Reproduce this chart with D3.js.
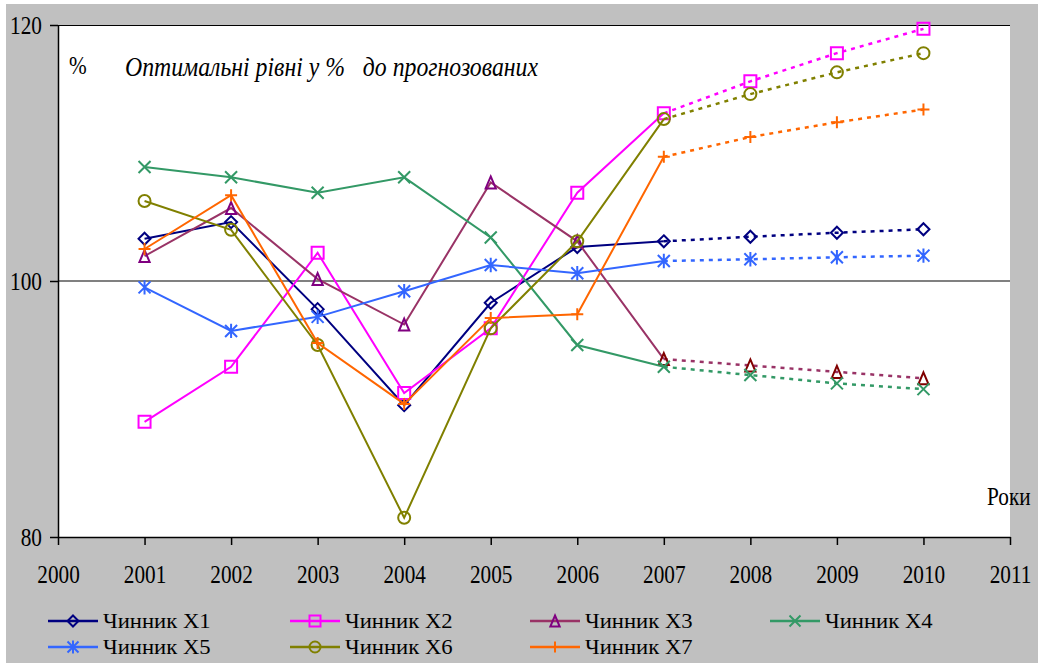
<!DOCTYPE html>
<html>
<head>
<meta charset="utf-8">
<script src="https://cdn.jsdelivr.net/npm/d3@7"></script>
<style>
  html, body { margin: 0; padding: 0; background: #ffffff; }
  svg { display: block; }
  svg text { font-family: "Liberation Serif", "Times New Roman", serif; fill: #000; }
</style>
</head>
<body>
<svg id="chart" width="1038" height="663" font-family="Liberation Serif"></svg>
<script>
// ---- data ----
const years = [2001, 2002, 2003, 2004, 2005, 2006, 2007, 2008, 2009, 2010];
const axisYears = [2000, 2001, 2002, 2003, 2004, 2005, 2006, 2007, 2008, 2009, 2010, 2011];
const yTicks = [80, 100, 120];
const forecastFrom = 2007;
const seriesNames = ["Чинник X1", "Чинник X2", "Чинник X3", "Чинник X4", "Чинник X5", "Чинник X6", "Чинник X7"];
const valuesX1 = [103.3, 104.6, 97.8, 90.3, 98.3, 102.65, 103.1, 103.46, 103.77, 104.04];
const valuesX2 = [89.0, 93.3, 102.2, 91.25, 96.3, 106.9, 113.1, 115.6, 117.8, 119.7];
const valuesX3 = [101.95, 105.7, 100.15, 96.6, 107.7, 103.1, 93.9, 93.4, 92.9, 92.4];
const valuesX4 = [108.9, 108.1, 106.9, 108.1, 103.4, 95.0, 93.3, 92.65, 92.0, 91.55];
const valuesX5 = [99.5, 96.1, 97.2, 99.2, 101.25, 100.6, 101.56, 101.7, 101.85, 101.98];
const valuesX6 = [106.25, 104.0, 95.0, 81.5, 96.3, 103.1, 112.65, 114.6, 116.3, 117.8];
const valuesX7 = [102.5, 106.7, 95.15, 90.4, 97.1, 97.4, 109.7, 111.25, 112.4, 113.4];
const titleText = "Оптимальні рівні у %   до прогнозованих";
const unitText = "%";
const xAxisTitle = "Роки";

// ---- styles ----
const seriesStyle = [
  { line: "#000080", marker: "#000080", shape: "diamond" },
  { line: "#FF00FF", marker: "#FF00FF", shape: "square" },
  { line: "#993366", marker: "#800080", markerF: "#800000", shape: "triangle" },
  { line: "#339966", marker: "#339966", shape: "x" },
  { line: "#3366FF", marker: "#3366FF", shape: "asterisk" },
  { line: "#808000", marker: "#808000", shape: "circle" },
  { line: "#FF6600", marker: "#FF6600", shape: "plus" }
];
const allValues = [valuesX1, valuesX2, valuesX3, valuesX4, valuesX5, valuesX6, valuesX7];
const series = seriesNames.map((name, i) => ({
  name, style: seriesStyle[i],
  points: years.map((yr, j) => ({ year: yr, value: allValues[i][j] }))
}));

const svg = d3.select("#chart");
const W = 1038, H = 663;
const plot = { left: 58, right: 1010, top: 25, bottom: 537 };

// background
svg.append("rect").attr("x", 6).attr("y", 4).attr("width", W - 6).attr("height", H - 4).attr("fill", "#C0C0C0");
svg.append("rect").attr("x", plot.left).attr("y", plot.top)
  .attr("width", plot.right - plot.left).attr("height", plot.bottom - plot.top).attr("fill", "#ffffff");

const x = d3.scaleLinear().domain([2000, 2011]).range([plot.left, plot.right]);
const y = d3.scaleLinear().domain([80, 120]).range([plot.bottom, plot.top]);

// top border
svg.append("line").attr("x1", plot.left).attr("x2", plot.right).attr("y1", plot.top + 0.5).attr("y2", plot.top + 0.5)
  .attr("stroke", "#000").attr("stroke-width", 1);

// 100 reference line
svg.append("line").attr("x1", plot.left).attr("x2", plot.right).attr("y1", y(100)).attr("y2", y(100))
  .attr("stroke", "#808080").attr("stroke-width", 2);

// axes
const xAxis = svg.append("g").attr("transform", `translate(0,${plot.bottom})`)
  .call(d3.axisBottom(x).tickValues(axisYears).tickFormat(d3.format("d")).tickSizeInner(8).tickSizeOuter(0).tickPadding(20));
const yAxis = svg.append("g").attr("transform", `translate(${plot.left},0)`)
  .call(d3.axisLeft(y).tickValues(yTicks).tickSizeInner(8).tickSizeOuter(0).tickPadding(8));
[xAxis, yAxis].forEach(g => {
  g.attr("font-family", "Liberation Serif").attr("font-size", 25);
  g.select(".domain").attr("stroke", "#000").attr("stroke-width", 1.5);
  g.selectAll(".tick line").attr("stroke", "#000").attr("stroke-width", 1.5);
  g.selectAll("text").attr("font-size", 25).attr("fill", "#000");
});

// marker shape generator
function markerPath(shape, r) {
  switch (shape) {
    case "diamond": return `M0,${-r}L${r},0L0,${r}L${-r},0Z`;
    case "square": return `M${-r},${-r}H${r}V${r}H${-r}Z`;
    case "triangle": return `M0,${-r}L${r * 0.85},${r}L${-r * 0.85},${r}Z`;
    case "x": return `M${-r},${-r}L${r},${r}M${r},${-r}L${-r},${r}`;
    case "asterisk": return `M${-r},${-r}L${r},${r}M${r},${-r}L${-r},${r}M0,${-r * 1.2}V${r * 1.2}`;
    case "plus": return `M${-r},0H${r}M0,${-r}V${r}`;
    case "circle": return `M${r},0A${r},${r} 0 1,1 ${-r},0A${r},${r} 0 1,1 ${r},0Z`;
  }
}
const line = d3.line().x(d => x(d.year)).y(d => y(d.value));

const gSeries = svg.append("g");
series.forEach(s => {
  const solid = s.points.filter(p => p.year <= forecastFrom);
  const dashed = s.points.filter(p => p.year >= forecastFrom);
  const g = gSeries.append("g");
  g.append("path").attr("d", line(solid)).attr("fill", "none")
    .attr("stroke", s.style.line).attr("stroke-width", 2);
  g.append("path").attr("d", line(dashed)).attr("fill", "none")
    .attr("stroke", s.style.line).attr("stroke-width", 2.5).attr("stroke-dasharray", "4,5");
  g.selectAll("path.m").data(s.points).join("path").attr("class", "m")
    .attr("transform", d => `translate(${x(d.year)},${y(d.value)})`)
    .attr("d", markerPath(s.style.shape, 6))
    .attr("fill", "none")
    .attr("stroke", d => (d.year >= forecastFrom && s.style.markerF) ? s.style.markerF : s.style.marker)
    .attr("stroke-width", 2);
});

// titles
const condense = [];
condense.push([svg.append("text").attr("x", 69).attr("y", 74).attr("font-size", 25).text(unitText), 0.85]);
condense.push([svg.append("text").attr("x", 125).attr("y", 76).attr("font-size", 27).attr("font-style", "italic")
  .style("white-space", "pre").text(titleText), 0.88]);
condense.push([svg.append("text").attr("x", 987).attr("y", 505).attr("font-size", 25).text(xAxisTitle), 0.85]);

// legend
const legendCols = [48, 290, 530, 770];
const legendRows = [621, 647];
const lg = svg.append("g");
series.forEach((s, i) => {
  const cx = legendCols[i % 4], cy = legendRows[Math.floor(i / 4)];
  const g = lg.append("g").attr("transform", `translate(${cx},${cy})`);
  g.append("line").attr("x1", 0).attr("x2", 50).attr("y1", 0).attr("y2", 0)
    .attr("stroke", s.style.line).attr("stroke-width", 2.5);
  g.append("path").attr("transform", "translate(25,0)").attr("d", markerPath(s.style.shape, 5.5))
    .attr("fill", "none").attr("stroke", s.style.marker).attr("stroke-width", 2);
  condense.push([g.append("text").attr("x", 55).attr("y", 7).attr("font-size", 22).text(s.name), 1.03]);
});
xAxis.selectAll("text").each(function () { condense.push([d3.select(this), 0.85]); });
yAxis.selectAll("text").each(function () { condense.push([d3.select(this), 0.85]); });

// adjust text width to the reference's narrow font
condense.forEach(([sel, k]) => {
  const node = sel.node();
  const w = node.getComputedTextLength();
  node.setAttribute("textLength", (w * k).toFixed(1));
  node.setAttribute("lengthAdjust", "spacingAndGlyphs");
});
</script>
</body>
</html>
